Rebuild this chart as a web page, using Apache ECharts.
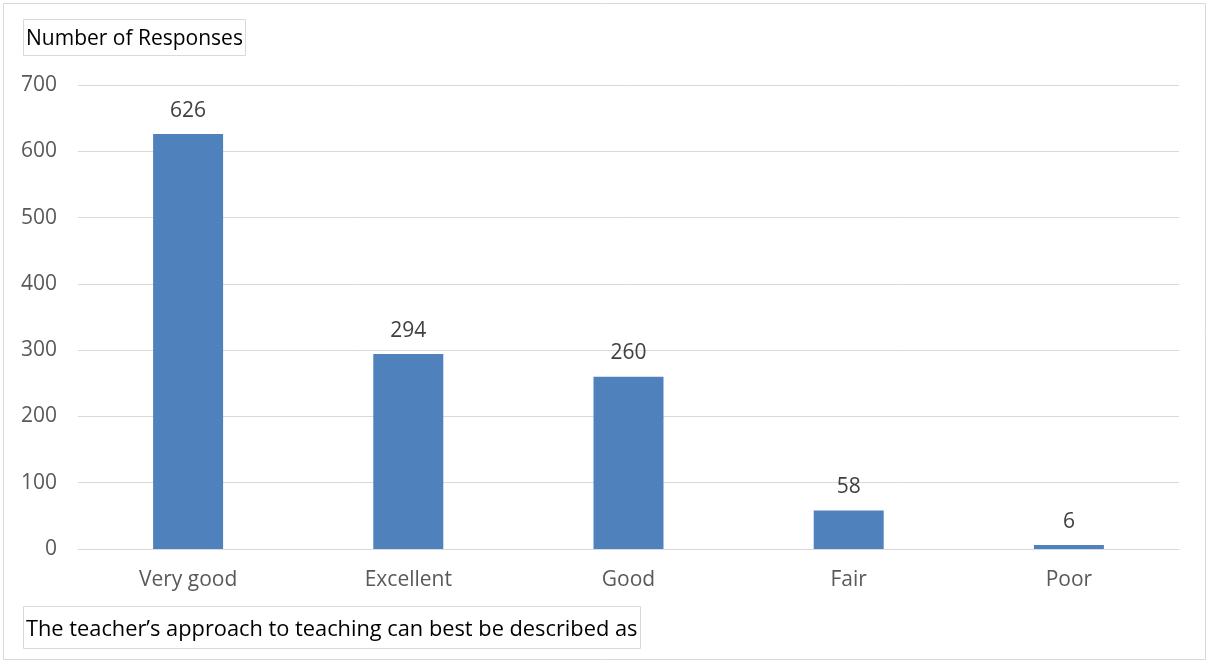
<!DOCTYPE html>
<html>
<head>
<meta charset="utf-8">
<script src="https://cdn.jsdelivr.net/npm/echarts@6/dist/echarts.min.js"></script>
<style>
  html, body { margin: 0; padding: 0; background: #fff; }
  #chart { width: 1209px; height: 663px; }
</style>
</head>
<body>
<div id="chart"></div>
<script>
const categories = ['Very good', 'Excellent', 'Good', 'Fair', 'Poor']
const responses = [626, 294, 260, 58, 6]
const yTicks = { min: 0, max: 700, interval: 100 }

const font = 'Open Sans, Noto Sans, sans-serif'
const myChart = echarts.init(document.getElementById('chart'))
const option = {
  animation: false,
  backgroundColor: '#fff',
  title: [
    {
      text: 'Number of Responses',
      left: 23,
      top: 19,
      padding: [10, 3, 6, 3],
      borderColor: '#d9d9d9',
      borderWidth: 1,
      textStyle: { fontFamily: font, fontSize: 21, fontWeight: 'normal', color: '#000' }
    },
    {
      // x 轴说明
      text: 'The teacher\u2019s approach to teaching can best be described as',
      left: 23,
      top: 606,
      padding: [13, 3, 8, 3],
      borderColor: '#d9d9d9',
      borderWidth: 1,
      textStyle: { fontFamily: font, fontSize: 21.8, fontWeight: 'normal', color: '#000' }
    }
  ],
  graphic: [
    {
      type: 'rect',
      shape: { x: 3.5, y: 3.5, width: 1202, height: 656 },
      style: { fill: 'none', stroke: '#d9d9d9', lineWidth: 1 },
      silent: true
    }
  ],
  grid: { left: 78, right: 30, top: 85, bottom: 114 },
  xAxis: {
    type: 'category',
    data: categories,
    axisLine: { show: true, lineStyle: { color: '#d9d9d9', width: 1 } },
    axisTick: { show: false },
    axisLabel: { margin: 21, fontFamily: font, fontSize: 21, color: '#595959' }
  },
  yAxis: {
    type: 'value',
    min: yTicks.min,
    max: yTicks.max,
    interval: yTicks.interval,
    axisLine: { show: false },
    axisTick: { show: false },
    splitLine: { lineStyle: { color: '#d9d9d9', width: 1 } },
    axisLabel: { margin: 21, fontFamily: font, fontSize: 21, color: '#595959' }
  },
  series: [
    {
      name: 'Number of Responses',
      type: 'bar',
      data: responses,
      barWidth: 70,
      itemStyle: { color: '#4f81bd' },
      label: {
        show: true,
        position: 'top',
        distance: 13,
        fontFamily: font,
        fontSize: 21,
        color: '#404040'
      }
    }
  ]
}
myChart.setOption(option)
</script>
</body>
</html>
